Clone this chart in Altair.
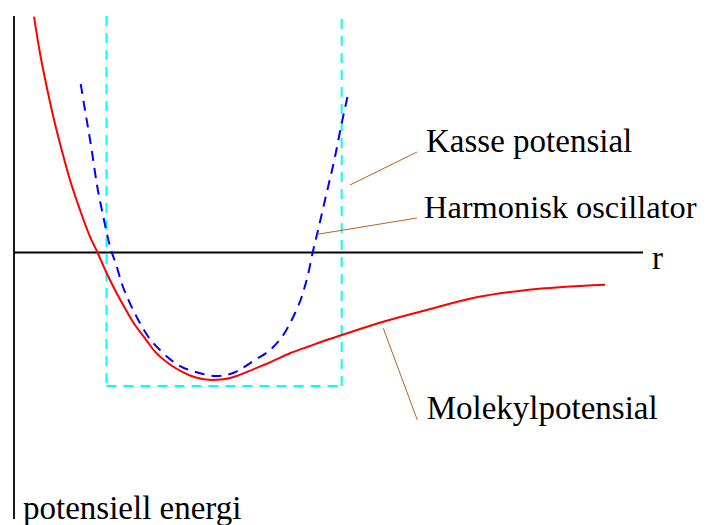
import altair as alt
import pandas as pd

# Molecular potential (red): r, energy
mol_r = [0.20, 0.26, 0.327, 0.393, 0.477, 0.56, 0.66, 0.76, 0.835, 0.927, 1.01, 1.11, 1.21,
         1.31, 1.41, 1.543, 1.677, 1.81, 1.977, 2.093, 2.227, 2.393, 2.56, 2.76, 2.96, 3.127,
         3.277, 3.46, 3.693, 4.127, 4.627, 5.127, 5.91]
mol_e = [2.358, 1.992, 1.658, 1.358, 1.025, 0.725, 0.425, 0.158, 0.0, -0.208, -0.375, -0.558,
         -0.725, -0.858, -0.992, -1.108, -1.192, -1.248, -1.275, -1.268, -1.235, -1.168, -1.098,
         -1.008, -0.935, -0.875, -0.825, -0.765, -0.692, -0.575, -0.448, -0.375, -0.322]

# Harmonic oscillator (blue dashed)
ho_r = [0.667, 0.71, 0.777, 0.827, 0.893, 0.97, 1.017, 1.077, 1.16, 1.243, 1.343, 1.477,
        1.643, 1.843, 2.02, 2.193, 2.293, 2.393, 2.56, 2.693, 2.793, 2.877, 2.943, 2.987,
        3.033, 3.11, 3.21, 3.277, 3.343]
ho_e = [1.685, 1.425, 1.025, 0.692, 0.358, 0.025, -0.108, -0.308, -0.508, -0.675, -0.842,
        -0.992, -1.125, -1.202, -1.235, -1.205, -1.15, -1.085, -0.975, -0.825, -0.642,
        -0.442, -0.208, 0.0, 0.192, 0.525, 0.958, 1.292, 1.592]

# Box potential (cyan dashed) segments
box_r = [0.925, 0.925, 3.277]
box_r2 = [0.925, 3.277, 3.277]
box_e = [2.365, -1.335, -1.335]
box_e2 = [-1.335, -1.335, 2.365]

# Axis lines
ax_r = [0.0, 0.0]
ax_r2 = [0.0, 6.29]
ax_e = [2.365, 0.0]
ax_e2 = [-2.665, 0.0]

# Leader lines
ld_r = [3.36, 3.033, 3.693]
ld_r2 = [4.03, 4.03, 4.033]
ld_e = [0.675, 0.182, -0.758]
ld_e2 = [1.005, 0.345, -1.675]

# Labels
lab_text = ["Kasse potensial", "Harmonisk oscillator", "Molekylpotensial", "r", "potensiell energi"]
lab_r = [4.12, 4.10, 4.127, 6.38, 0.09]
lab_e = [1.005, 0.345, -1.668, -0.165, -2.665]
lab_size = [33, 32.4, 33, 33, 33]

xs = alt.Scale(domain=[-0.06, 6.88], nice=False, zero=False)
ys = alt.Scale(domain=[-2.725, 2.445], nice=False, zero=False)

mol = pd.DataFrame({"r": mol_r, "e": mol_e})
ho = pd.DataFrame({"r": ho_r, "e": ho_e})
box = pd.DataFrame({"r": box_r, "r2": box_r2, "e": box_e, "e2": box_e2})
axes = pd.DataFrame({"r": ax_r, "r2": ax_r2, "e": ax_e, "e2": ax_e2})
lead = pd.DataFrame({"r": ld_r, "r2": ld_r2, "e": ld_e, "e2": ld_e2})
labs = pd.DataFrame({"t": lab_text, "r": lab_r, "e": lab_e, "s": lab_size})

X = alt.X("r:Q", scale=xs, axis=None)
Y = alt.Y("e:Q", scale=ys, axis=None)

box_layer = alt.Chart(box).mark_rule(color="#00ffff", strokeWidth=2, strokeDash=[10, 7]).encode(
    x=X, x2="r2:Q", y=Y, y2="e2:Q")
axes_layer = alt.Chart(axes).mark_rule(color="black", strokeWidth=1.8).encode(
    x=X, x2="r2:Q", y=Y, y2="e2:Q")
mol_layer = alt.Chart(mol).mark_line(color="#ff0000", strokeWidth=2, interpolate="monotone").encode(
    x=X, y=Y)
ho_layer = alt.Chart(ho).mark_line(color="#0000ff", strokeWidth=2, strokeDash=[10, 7],
                                   interpolate="monotone").encode(x=X, y=Y)
lead_layer = alt.Chart(lead).mark_rule(color="#b5651d", strokeWidth=1).encode(
    x=X, x2="r2:Q", y=Y, y2="e2:Q")
text_layer = alt.Chart(labs).mark_text(align="left", baseline="alphabetic", font="Liberation Serif",
                                       color="black").encode(
    x=X, y=Y, text="t:N", size=alt.Size("s:Q", scale=None, legend=None))

chart = alt.layer(box_layer, axes_layer, mol_layer, ho_layer, lead_layer, text_layer).properties(
    width=694, height=517, padding=0, autosize="none"
).configure_view(stroke=None)

chart.save("out.html", embed_options={"renderer": "svg", "actions": False})
